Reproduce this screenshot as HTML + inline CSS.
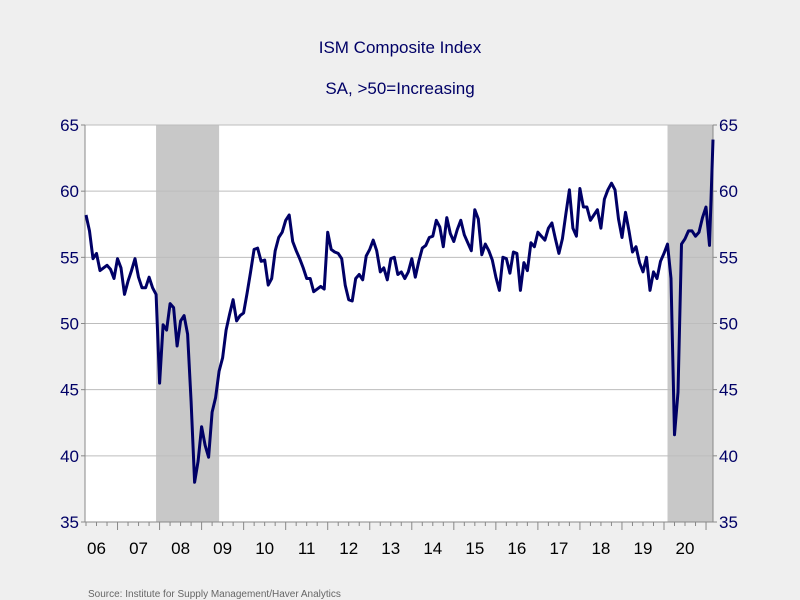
<!DOCTYPE html>
<html><head><meta charset="utf-8"><style>
body{margin:0;background:#efefef;}
svg{display:block;font-family:"Liberation Sans",sans-serif;}
</style></head><body>
<svg id="chart" width="800" height="600" viewBox="0 0 800 600">
<rect x="0" y="0" width="800" height="600" fill="#efefef"/>
<text x="400" y="53" text-anchor="middle" font-size="17" fill="#000066">ISM Composite Index</text>
<text x="400" y="94" text-anchor="middle" font-size="17" fill="#000066">SA, &gt;50=Increasing</text>
<text x="88" y="597" font-size="10" fill="#666">Source:  Institute for Supply Management/Haver Analytics</text>
<g id="plot"></g>
</svg>
<script>
const yTicks=[35,40,45,50,55,60,65];
const yearLabels=["06","07","08","09","10","11","12","13","14","15","16","17","18","19","20"];
const recessions=[[23,41],[169,183]];
const startMonth=3; // April 2006 (months since Jan 2006)
const values=[
58.2,57.0,54.9,55.3,54.0,54.2,54.4,54.1,53.4,
54.9,54.2,52.2,53.2,54.0,54.9,53.5,52.7,52.7,53.5,52.7,52.2,
45.5,49.9,49.5,51.5,51.2,48.3,50.2,50.6,49.2,44.1,38.0,39.6,
42.2,40.8,39.9,43.3,44.4,46.4,47.4,49.5,50.7,51.8,50.2,50.6,
50.8,52.3,53.9,
55.6,55.7,54.7,54.8,52.9,53.4,55.5,56.5,56.9,
57.8,58.2,56.2,55.5,54.9,54.2,53.4,53.4,52.4,52.6,52.8,52.6,
56.9,55.6,55.4,55.3,54.9,52.9,51.8,51.7,53.4,53.7,53.3,55.1,
55.6,56.3,55.5,53.9,54.2,53.3,54.9,55.0,53.7,53.9,53.4,53.9,
54.9,53.5,54.7,55.7,55.9,56.5,56.6,57.8,57.3,55.8,58.0,56.8,
56.2,57.1,57.8,56.7,56.1,55.5,58.6,57.9,55.2,56.0,55.5,54.8,
53.5,52.5,
55.0,54.9,53.8,55.4,55.3,52.5,54.6,54.0,56.1,55.8,
56.9,56.6,56.3,57.2,57.6,56.4,55.3,56.4,58.3,60.1,57.2,56.6,
60.2,58.8,58.8,57.8,58.2,58.6,57.2,59.4,60.1,60.6,60.1,57.9,
56.5,58.4,57.0,55.4,55.8,54.6,53.9,55.0,52.5,53.9,53.4,54.7,
55.3,56.0,53.4,41.6,44.8,56.0,56.4,57.0,57.0,56.6,56.9,58.0,
58.8,55.9,63.9
];
const L=85,R=713,T=125,B=522;
const ns="http://www.w3.org/2000/svg";
const g=document.getElementById('plot');
function xs(t){return 86+(t-startMonth)*3.503;}
function ys(v){return B-(v-35)*(B-T)/30;}
function mk(tag,attrs){const e=document.createElementNS(ns,tag);for(const k in attrs)e.setAttribute(k,attrs[k]);g.appendChild(e);return e;}
let e=mk('rect',{x:L,y:T,width:R-L,height:B-T,fill:'#fff'});


recessions.forEach(r=>{
 const x1=Math.max(L,xs(r[0])),x2=Math.min(R,xs(r[1]));
 const s=mk('rect',{x:x1,y:T,width:x2-x1,height:B-T,fill:'#c8c8c8'});
 
 
});
yTicks.forEach(v=>{
 const y=ys(v);
 if(v>35&&v<65||v==65){const l=mk('line',{x1:L,x2:R,y1:y,y2:y,stroke:'#bdbdbd','stroke-width':1});
 
 }
 const tl=mk('line',{x1:L-4,x2:L,y1:y,y2:y,stroke:'#888'});
 
 
 const tr=mk('line',{x1:R,x2:R+4,y1:y,y2:y,stroke:'#888'});
 
 
 const a=mk('text',{x:L-6,y:y+6,'text-anchor':'end','font-size':17,fill:'#000066'});
 a.textContent=v;
 
 
 const b=mk('text',{x:R+6,y:y+6,'text-anchor':'start','font-size':17,fill:'#000066'});
 b.textContent=v;
 
 
});
e=mk('line',{x1:L,x2:L,y1:T,y2:B,stroke:'#888'});


e=mk('line',{x1:R,x2:R,y1:T,y2:B,stroke:'#888'});


e=mk('line',{x1:L,x2:R,y1:B,y2:B,stroke:'#888'});


for(let t=0;t<=15*12+3;t+=3){
 const x=xs(t);if(x<L||x>R)continue;
 const tk=mk('line',{x1:x,x2:x,y1:B,y2:B+(t%12==0?8:4),stroke:'#888'});
 
 
}
yearLabels.forEach((lab,i)=>{
 const x=Math.max(xs(i*12+6),96);
 const tx=mk('text',{x:x,y:554,'text-anchor':'middle','font-size':17,fill:'#000'});
 tx.textContent=lab;
 
 
});
const pts=values.map((v,i)=>xs(startMonth+i).toFixed(1)+','+ys(v).toFixed(1)).join(' ');
const line=mk('polyline',{points:pts,fill:'none',stroke:'#000066','stroke-width':3,'stroke-linejoin':'round'});


</script>
</body></html>
